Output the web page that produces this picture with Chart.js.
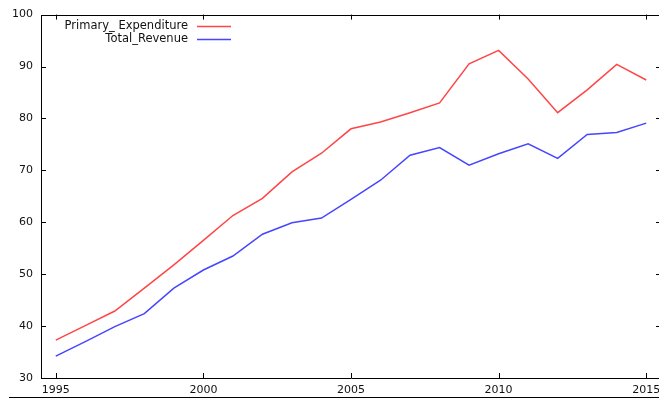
<!DOCTYPE html>
<html>
<head>
<meta charset="utf-8">
<script src="https://cdn.jsdelivr.net/npm/chart.js@4/dist/chart.umd.min.js"></script>
<style>
  html, body { margin: 0; padding: 0; background: #fff; overflow: hidden; }
  #wrap { position: relative; width: 659px; height: 399px; overflow: hidden; }
  #c { position: absolute; left: 0; top: 0; }
  #rule { position: absolute; left: 9px; top: 397px; width: 660px; height: 0; border-top: 1px solid #000; }
</style>
</head>
<body>
<div id="wrap">
  <canvas id="c" width="700" height="399"></canvas>
  <div id="rule"></div>
</div>
<script>
// Fiscal series, 1995-2015
const years = [1995, 1996, 1997, 1998, 1999, 2000, 2001, 2002, 2003, 2004, 2005,
               2006, 2007, 2008, 2009, 2010, 2011, 2012, 2013, 2014, 2015];
const primaryExpenditure = [37.3, 40.1, 42.9, 47.3, 51.8, 56.5, 61.3, 64.6, 69.7, 73.3, 78.0,
                            79.3, 81.1, 83.0, 90.5, 93.1, 87.6, 81.1, 85.5, 90.4, 87.4];
const totalRevenue = [34.2, 37.0, 39.9, 42.4, 47.3, 50.8, 53.5, 57.7, 59.9, 60.8, 64.4,
                      68.1, 72.9, 74.4, 71.0, 73.2, 75.1, 72.3, 76.9, 77.3, 79.1];
const xTicks = [1995, 2000, 2005, 2010, 2015];
const yTicks = [30, 40, 50, 60, 70, 80, 90, 100];

const FONT = 'DejaVu Sans';

// Frame with inward tick marks on all four sides, plus the key in the top-left corner
const framePlugin = {
  id: 'frame',
  afterDraw(chart) {
    const { ctx, chartArea: a, scales } = chart;
    const xs = scales.x, ys = scales.y;
    ctx.save();
    ctx.strokeStyle = '#000';
    ctx.lineWidth = 1;
    ctx.beginPath();
    ctx.rect(Math.round(a.left) + 0.5, Math.round(a.top) + 0.5,
             Math.round(a.right - a.left), Math.round(a.bottom - a.top));
    const tl = 5;
    xTicks.forEach(v => {
      const px = Math.round(xs.getPixelForValue(v)) + 0.5;
      ctx.moveTo(px, a.bottom); ctx.lineTo(px, a.bottom - tl);
      ctx.moveTo(px, a.top); ctx.lineTo(px, a.top + tl);
    });
    yTicks.forEach(v => {
      const py = Math.round(ys.getPixelForValue(v)) + 0.5;
      ctx.moveTo(a.left, py); ctx.lineTo(a.left + tl, py);
      ctx.moveTo(a.right, py); ctx.lineTo(a.right - tl, py);
    });
    ctx.stroke();

    // key: right-aligned label followed by a line sample
    ctx.font = '11.5px "' + FONT + '"';
    ctx.textAlign = 'right';
    ctx.textBaseline = 'middle';
    chart.data.datasets.forEach((ds, i) => {
      const y = 26 + i * 13;
      ctx.fillStyle = '#111';
      ctx.fillText(ds.label, 188, y);
      ctx.strokeStyle = ds.borderColor;
      ctx.lineWidth = 1.4;
      ctx.beginPath();
      ctx.moveTo(197, y + 0.5); ctx.lineTo(231, y + 0.5);
      ctx.stroke();
    });
    ctx.restore();
  }
};

const toPoints = vals => years.map((yr, i) => ({ x: yr, y: vals[i] }));

new Chart(document.getElementById('c'), {
  type: 'line',
  data: {
    datasets: [
      { label: 'Primary_ Expenditure', data: toPoints(primaryExpenditure),
        borderColor: 'rgb(255,70,70)', borderWidth: 1.5, pointRadius: 0, tension: 0, fill: false },
      { label: 'Total_Revenue', data: toPoints(totalRevenue),
        borderColor: 'rgb(70,70,255)', borderWidth: 1.5, pointRadius: 0, tension: 0, fill: false }
    ]
  },
  options: {
    responsive: false,
    animation: false,
    devicePixelRatio: 1,
    layout: { padding: { left: 0, top: 14, right: 39, bottom: 0 } },
    plugins: { legend: { display: false }, tooltip: { enabled: false } },
    scales: {
      x: {
        type: 'linear', min: 1994.5, max: 2015.5,
        afterBuildTicks: s => { s.ticks = xTicks.map(v => ({ value: v })); },
        afterFit: s => { s.height = 21; },
        grid: { display: false, drawTicks: false },
        border: { display: false },
        ticks: { color: '#111', font: { family: FONT, size: 11 }, padding: 6,
                 maxRotation: 0, autoSkip: false, callback: v => String(v) }
      },
      y: {
        type: 'linear', min: 30, max: 100,
        afterBuildTicks: s => { s.ticks = yTicks.map(v => ({ value: v })); },
        afterFit: s => { s.width = 41; },
        grid: { display: false, drawTicks: false },
        border: { display: false },
        ticks: { color: '#111', font: { family: FONT, size: 11 }, padding: 8,
                 callback: v => String(v) }
      }
    }
  },
  plugins: [framePlugin]
});
</script>
</body>
</html>
